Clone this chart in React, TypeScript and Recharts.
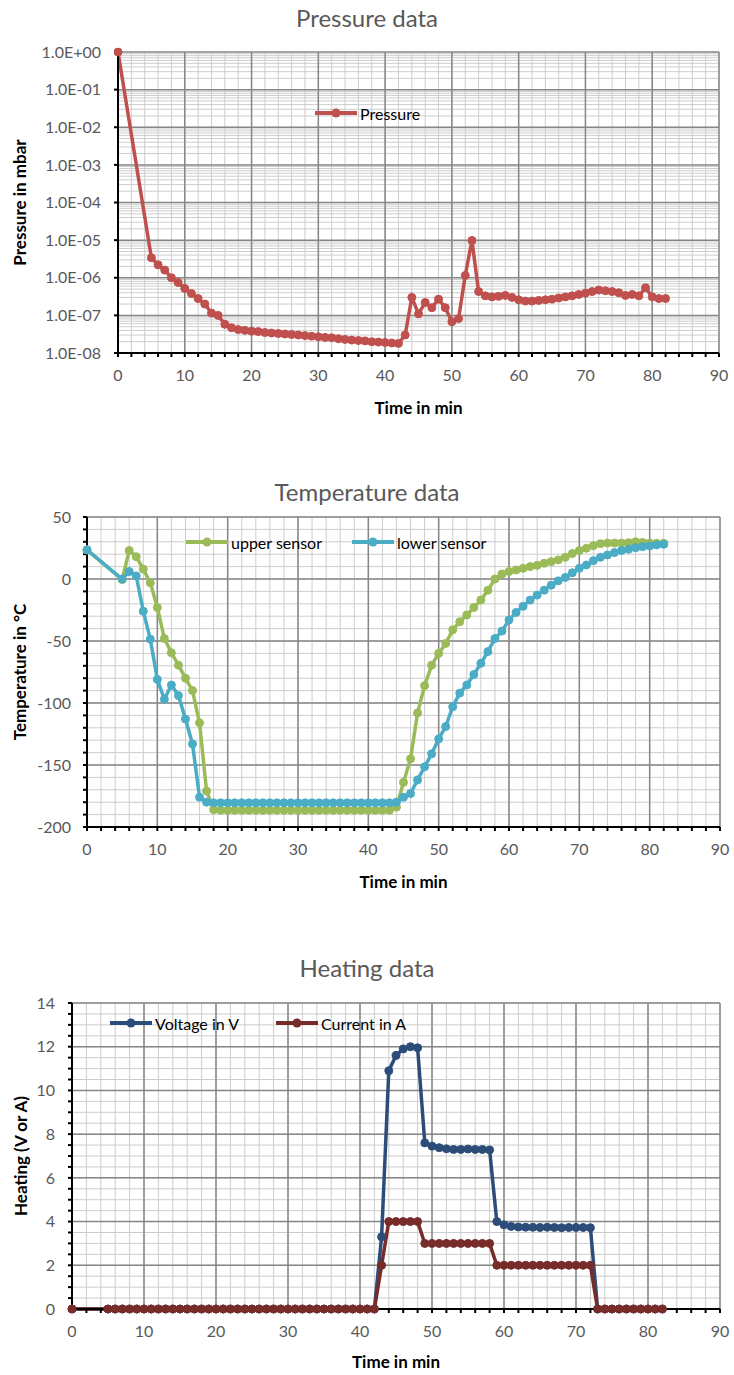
import React from "react"
import { LineChart, Line, XAxis, YAxis, CartesianGrid } from "recharts"

// ---- data ----

// sample times in minutes, shared by all three charts
const minutes = [
  0, 5, 6, 7, 8, 9, 10, 11, 12, 13, 14, 15, 16, 17, 18, 19, 20, 21, 22, 23, 24,
  25, 26, 27, 28, 29, 30, 31, 32, 33, 34, 35, 36, 37, 38, 39, 40, 41, 42, 43,
  44, 45, 46, 47, 48, 49, 50, 51, 52, 53, 54, 55, 56, 57, 58, 59, 60, 61, 62,
  63, 64, 65, 66, 67, 68, 69, 70, 71, 72, 73, 74, 75, 76, 77, 78, 79, 80, 81, 82,
]

const pressureMbar = [
  1, 3.4e-6, 2.2e-6, 1.6e-6, 1.0e-6, 7.5e-7, 5.2e-7, 3.8e-7, 2.8e-7, 2.0e-7,
  1.15e-7, 1.0e-7, 5.8e-8, 4.7e-8, 4.2e-8, 4.0e-8, 3.8e-8, 3.7e-8, 3.5e-8,
  3.4e-8, 3.3e-8, 3.2e-8, 3.1e-8, 3.0e-8, 2.9e-8, 2.8e-8, 2.7e-8, 2.6e-8,
  2.55e-8, 2.4e-8, 2.3e-8, 2.2e-8, 2.15e-8, 2.1e-8, 2.0e-8, 1.95e-8, 1.9e-8,
  1.85e-8, 1.8e-8, 3.0e-8, 3.0e-7, 1.1e-7, 2.2e-7, 1.6e-7, 2.7e-7, 1.6e-7,
  6.8e-8, 8.2e-8, 1.15e-6, 9.8e-6, 4.3e-7, 3.3e-7, 3.1e-7, 3.2e-7, 3.4e-7,
  3.0e-7, 2.6e-7, 2.4e-7, 2.4e-7, 2.5e-7, 2.6e-7, 2.7e-7, 2.9e-7, 3.1e-7,
  3.3e-7, 3.6e-7, 3.9e-7, 4.3e-7, 4.7e-7, 4.5e-7, 4.3e-7, 4.0e-7, 3.4e-7,
  3.6e-7, 3.3e-7, 5.4e-7, 3.1e-7, 2.8e-7, 2.8e-7,
]

const upperSensor = [
  23.5, -0.5, 23, 18, 8, -3, -23, -48, -59.5, -69.5, -80, -90, -116, -171,
  -186, -186.5, -186.5, -186.5, -186.5, -186.5, -186.5, -186.5, -186.5, -186.5,
  -186.5, -186.5, -186.5, -186.5, -186.5, -186.5, -186.5, -186.5, -186.5,
  -186.5, -186.5, -186.5, -186.5, -186.5, -186.5, -186.5, -184, -164, -145,
  -108, -86, -69.5, -60, -52, -41, -34.5, -29, -23, -17, -9, 0, 4, 6, 7.3, 8.6,
  10, 11, 12.7, 14, 15.4, 17.5, 20.5, 22.9, 24.8, 26.9, 28.5, 29, 29, 29, 29.3,
  30, 29.5, 29, 28.8, 28.8,
]

const lowerSensor = [
  23.5, 0, 6, 2.5, -26, -48.5, -81, -97, -85.5, -94, -113, -133, -176, -180,
  -180.5, -180.5, -180.5, -180.5, -180.5, -180.5, -180.5, -180.5, -180.5,
  -180.5, -180.5, -180.5, -180.5, -180.5, -180.5, -180.5, -180.5, -180.5,
  -180.5, -180.5, -180.5, -180.5, -180.5, -180.5, -180.5, -180.5, -180, -176,
  -173, -162, -151.5, -141, -129, -119, -103, -92, -85.5, -77, -68, -58.5, -48,
  -42, -33, -27, -22, -17, -13, -9, -5, -1.5, 1.3, 5, 8.6, 11.3, 14.8, 17.5,
  19.4, 21.3, 22.9, 24, 25.3, 26.1, 26.7, 27.5, 28,
]

const voltage = [
  0, 0, 0, 0, 0, 0, 0, 0, 0, 0, 0, 0, 0, 0, 0, 0, 0, 0, 0, 0, 0, 0, 0, 0, 0, 0,
  0, 0, 0, 0, 0, 0, 0, 0, 0, 0, 0, 0, 0, 3.3, 10.9, 11.6, 11.9, 12.0, 11.95, 7.6,
  7.45, 7.38, 7.33, 7.3, 7.3, 7.32, 7.3, 7.3, 7.28, 4.0, 3.85, 3.78, 3.75, 3.74,
  3.74, 3.73, 3.74, 3.73, 3.72, 3.73, 3.73, 3.73, 3.72, 0, 0, 0, 0, 0, 0, 0, 0,
  0, 0,
]

const current = [
  0, 0, 0, 0, 0, 0, 0, 0, 0, 0, 0, 0, 0, 0, 0, 0, 0, 0, 0, 0, 0, 0, 0, 0, 0, 0,
  0, 0, 0, 0, 0, 0, 0, 0, 0, 0, 0, 0, 0, 2, 4, 4, 4, 4, 4, 3, 3, 3, 3, 3, 3, 3,
  3, 3, 3, 2, 2, 2, 2, 2, 2, 2, 2, 2, 2, 2, 2, 2, 2, 0, 0, 0, 0, 0, 0, 0, 0, 0,
  0,
]

// axis ticks
const timeTicks = [
  0, 2, 4, 6, 8, 10, 12, 14, 16, 18, 20, 22, 24, 26, 28, 30, 32, 34, 36, 38, 40,
  42, 44, 46, 48, 50, 52, 54, 56, 58, 60, 62, 64, 66, 68, 70, 72, 74, 76, 78, 80,
  82, 84, 86, 88, 90,
]
const timeMajor = [0, 10, 20, 30, 40, 50, 60, 70, 80, 90]
const pressureDecades = [1e-8, 1e-7, 1e-6, 1e-5, 1e-4, 1e-3, 1e-2, 1e-1, 1]
const tempTicks = [
  -200, -190, -180, -170, -160, -150, -140, -130, -120, -110, -100, -90, -80,
  -70, -60, -50, -40, -30, -20, -10, 0, 10, 20, 30, 40, 50,
]
const tempMajor = [-200, -150, -100, -50, 0, 50]
const heatTicks = [
  0, 0.5, 1, 1.5, 2, 2.5, 3, 3.5, 4, 4.5, 5, 5.5, 6, 6.5, 7, 7.5, 8, 8.5, 9,
  9.5, 10, 10.5, 11, 11.5, 12, 12.5, 13, 13.5, 14,
]
const heatMajor = [0, 2, 4, 6, 8, 10, 12, 14]

// minor log gridlines 2..9 per decade
const pressureMinor: number[] = []
pressureDecades.slice(0, -1).forEach((d) => {
  for (let k = 2; k <= 9; k++) pressureMinor.push(k * d)
})

const pressureRows = minutes.map((t, i) => ({ t, p: pressureMbar[i] }))
const tempRows = minutes.map((t, i) => ({
  t,
  upper: upperSensor[i],
  lower: lowerSensor[i],
}))
const heatRows = minutes.map((t, i) => ({ t, v: voltage[i], a: current[i] }))

// ---- styling ----
const FONT = "Lato, 'Open Sans', sans-serif"
const MINOR = "#cdcdcd"
const MAJOR = "#868686"
const TICK_TEXT = { fill: "#595959", fontSize: 16, fontFamily: FONT }
const AXIS_LINE = { stroke: "#000", strokeWidth: 2 }
const AXIS_TITLE = {
  fill: "#000",
  fontSize: 17,
  fontWeight: 700,
  fontFamily: FONT,
}

const RED = "#C0504D"
const GREEN = "#9BBB59"
const CYAN = "#4BACC6"
const NAVY = "#2C4D7A"
const MAROON = "#772C2A"

const expLabel = (v: number) => {
  const e = Math.round(Math.log10(v))
  const s = e < 0 ? "-" : "+"
  return `1.0E${s}${String(Math.abs(e)).padStart(2, "0")}`
}
const tenOnly = (v: number) => (v % 10 === 0 ? String(v) : "")

function Title({ top, text }: { top: number; text: string }) {
  return (
    <div
      style={{
        position: "absolute",
        top,
        left: 0,
        width: 734,
        textAlign: "center",
        fontFamily: FONT,
        fontSize: 24,
        lineHeight: "24px",
        color: "#595959",
      }}
    >
      {text}
    </div>
  )
}

function LegendItem({
  x,
  y,
  color,
  label,
}: {
  x: number
  y: number
  color: string
  label: string
}) {
  return (
    <div
      style={{
        position: "absolute",
        left: x,
        top: y - 10,
        height: 20,
        display: "flex",
        alignItems: "center",
        fontFamily: FONT,
        fontSize: 16,
        color: "#000",
      }}
    >
      <svg width={44} height={20}>
        <line x1={1} y1={10} x2={43} y2={10} stroke={color} strokeWidth={4} />
        <circle cx={22} cy={10} r={4.5} fill={color} />
      </svg>
      <span style={{ marginLeft: 2 }}>{label}</span>
    </div>
  )
}

function timeAxis(height: number, offset: number) {
  return (
    <XAxis
      type="number"
      dataKey="t"
      domain={[0, 90]}
      ticks={timeTicks}
      interval={0}
      tickFormatter={tenOnly}
      height={height}
      axisLine={AXIS_LINE}
      tickLine={{ stroke: "#000", strokeWidth: 2 }}
      tickSize={4}
      tickMargin={13}
      tick={TICK_TEXT}
      label={{
        value: "Time in min",
        position: "insideBottom",
        offset,
        style: AXIS_TITLE,
      }}
    />
  )
}

export default function App() {
  const dot = (c: string) => ({
    r: 4,
    fill: c,
    stroke: c,
    strokeWidth: 1,
    clipDot: false,
  })
  return (
    <div
      style={{
        position: "absolute",
        left: 0,
        top: 0,
        width: 734,
        height: 1375,
        background: "#fff",
      }}
    >
      {/* Pressure */}
      <Title top={6} text="Pressure data" />
      <div style={{ position: "absolute", left: 0, top: 0 }}>
        <LineChart
          width={734}
          height={420}
          data={pressureRows}
          margin={{ top: 52, right: 15, bottom: 0, left: 0 }}
        >
          <CartesianGrid
            stroke={MINOR}
            verticalValues={timeTicks}
            horizontalValues={pressureMinor}
          />
          <CartesianGrid
            stroke={MAJOR}
            strokeWidth={1.5}
            verticalValues={timeMajor}
            horizontalValues={pressureDecades}
          />
          {timeAxis(67, 6)}
          <YAxis
            type="number"
            scale="log"
            domain={[1e-8, 1]}
            allowDataOverflow
            ticks={pressureDecades}
            interval={0}
            tickFormatter={expLabel}
            width={118}
            axisLine={AXIS_LINE}
            tickLine={{ stroke: "#000", strokeWidth: 2 }}
            tickSize={4}
            tickMargin={13}
            tick={TICK_TEXT}
            label={{
              value: "Pressure in mbar",
              angle: -90,
              position: "insideLeft",
              offset: 20,
              style: { ...AXIS_TITLE, textAnchor: "middle" },
            }}
          />
          <Line
            type="linear"
            dataKey="p"
            stroke={RED}
            strokeWidth={3.5}
            dot={dot(RED)}
            isAnimationActive={false}
          />
        </LineChart>
      </div>
      <LegendItem x={314} y={113} color={RED} label="Pressure" />

      {/* Temperature */}
      <Title top={480} text="Temperature data" />
      <div style={{ position: "absolute", left: 0, top: 450 }}>
        <LineChart
          width={734}
          height={450}
          data={tempRows}
          margin={{ top: 67, right: 14, bottom: 0, left: 0 }}
        >
          <CartesianGrid
            stroke={MINOR}
            verticalValues={timeTicks}
            horizontalValues={tempTicks}
          />
          <CartesianGrid
            stroke={MAJOR}
            strokeWidth={1.5}
            verticalValues={timeMajor}
            horizontalValues={tempMajor}
          />
          {timeAxis(73, 12)}
          <YAxis
            type="number"
            domain={[-200, 50]}
            ticks={tempTicks}
            interval={0}
            tickFormatter={(v: number) => (v % 50 === 0 ? String(v) : "")}
            width={87}
            axisLine={AXIS_LINE}
            tickLine={{ stroke: "#000", strokeWidth: 2 }}
            tickSize={4}
            tickMargin={12}
            tick={TICK_TEXT}
            label={{
              value: "Temperature in °C",
              angle: -90,
              position: "insideLeft",
              offset: 20,
              style: { ...AXIS_TITLE, textAnchor: "middle" },
            }}
          />
          <Line
            type="linear"
            dataKey="upper"
            stroke={GREEN}
            strokeWidth={3.5}
            dot={dot(GREEN)}
            isAnimationActive={false}
          />
          <Line
            type="linear"
            dataKey="lower"
            stroke={CYAN}
            strokeWidth={3.5}
            dot={dot(CYAN)}
            isAnimationActive={false}
          />
        </LineChart>
      </div>
      <LegendItem x={185} y={542} color={GREEN} label="upper sensor" />
      <LegendItem x={351} y={542} color={CYAN} label="lower sensor" />

      {/* Heating */}
      <Title top={956} text="Heating data" />
      <div style={{ position: "absolute", left: 0, top: 930 }}>
        <LineChart
          width={734}
          height={445}
          data={heatRows}
          margin={{ top: 73, right: 14, bottom: 0, left: 0 }}
        >
          <CartesianGrid
            stroke={MINOR}
            verticalValues={timeTicks}
            horizontalValues={heatTicks}
          />
          <CartesianGrid
            stroke={MAJOR}
            strokeWidth={1.5}
            verticalValues={timeMajor}
            horizontalValues={heatMajor}
          />
          {timeAxis(66, 7)}
          <YAxis
            type="number"
            domain={[0, 14]}
            ticks={heatTicks}
            interval={0}
            tickFormatter={(v: number) => (v % 2 === 0 ? String(v) : "")}
            width={72}
            axisLine={AXIS_LINE}
            tickLine={{ stroke: "#000", strokeWidth: 2 }}
            tickSize={4}
            tickMargin={13}
            tick={TICK_TEXT}
            label={{
              value: "Heating (V or A)",
              angle: -90,
              position: "insideLeft",
              offset: 21,
              style: { ...AXIS_TITLE, textAnchor: "middle" },
            }}
          />
          <Line
            type="linear"
            dataKey="v"
            stroke={NAVY}
            strokeWidth={3.5}
            dot={dot(NAVY)}
            isAnimationActive={false}
          />
          <Line
            type="linear"
            dataKey="a"
            stroke={MAROON}
            strokeWidth={3.5}
            dot={dot(MAROON)}
            isAnimationActive={false}
          />
        </LineChart>
      </div>
      <LegendItem x={109} y={1023} color={NAVY} label="Voltage in V" />
      <LegendItem x={275} y={1023} color={MAROON} label="Current in A" />
    </div>
  )
}
